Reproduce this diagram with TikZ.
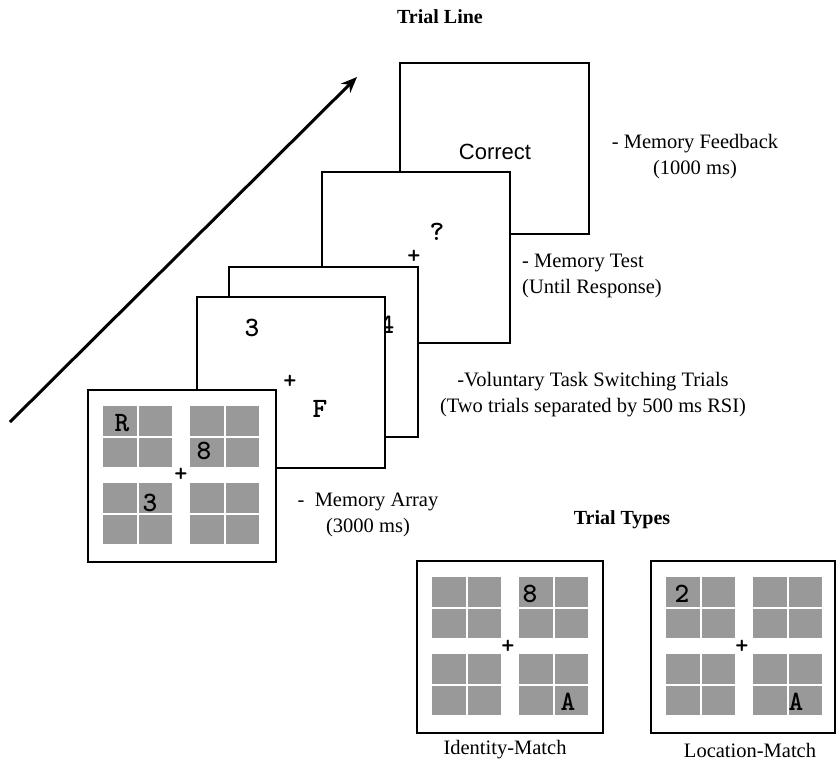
\documentclass[tikz,border=0pt]{standalone}
\usepackage{fontspec}
\setmainfont{Liberation Serif}
\newfontfamily\arialf{Liberation Sans}
\usetikzlibrary{arrows.meta}
\definecolor{cellgray}{RGB}{153,153,153}
\tikzset{
  frame/.style={draw=black, line width=2pt, fill=white},
  lbl/.style={font=\fontsize{20.5}{26}\selectfont, align=center, inner sep=0pt},
  ttl/.style={font=\fontsize{20}{22}\selectfont\bfseries, inner sep=0pt},
  glyph/.style={font=\ttfamily\bfseries\fontsize{28}{28}\selectfont, inner sep=0pt},
  cross/.style={font=\ttfamily\bfseries\fontsize{25}{25}\selectfont, inner sep=0pt},
}
% one 2x2 quadrant of grey cells, top-left corner (#1,#2)
\newcommand{\quadcells}[2]{%
  \fill[cellgray] (#1,#2) rectangle ++(69,61);
  \draw[white, line width=2.5pt] (#1+35,#2) -- ++(0,61);
  \draw[white, line width=2pt] (#1,#2+30.5) -- ++(69,0);
}
% the four quadrants of an array frame whose top-left corner is (#1,#2)
\newcommand{\arraycells}[2]{%
  \quadcells{#1+15}{#2+16}
  \quadcells{#1+102}{#2+16}
  \quadcells{#1+15}{#2+93}
  \quadcells{#1+102}{#2+93}
}
\begin{document}
\begin{tikzpicture}[x=1pt, y=-1pt]
\useasboundingbox (0,0) rectangle (836,761);

% titles
\node[ttl] (tline) at (440,17) {Trial Line};
\node[ttl] (ttypes) at (622,520) {Trial Types};

% time arrow
\coordinate (tstart) at (10,422);
\coordinate (tend) at (357,77);
\draw[line width=3pt, -{Stealth[length=16pt, width=13pt]}] (tstart) -- (tend);

% feedback screen
\draw[frame] (400,63) rectangle (589,234);
\node[font=\arialf\fontsize{22}{22}\selectfont, inner sep=0pt] (correct) at (495,152) {Correct};

% memory test screen
\draw[frame] (322,172) rectangle (510,343);
\node[glyph] (qmark) at (437,232) {?};
\node[cross] (plustest) at (414,257) {+};

% second task-switching screen
\draw[frame] (229,267) rectangle (418,437);
\node[glyph] (four) at (387,325) {4};

% first task-switching screen
\draw[frame] (197,297) rectangle (385,468);
\node[glyph] (three) at (252,328) {3};
\node[cross] (plusvts) at (290,382) {+};
\node[glyph] (letterF) at (320,409) {F};

% memory array screen
\draw[frame] (88,390) rectangle (276,562);
\arraycells{88}{390}
\node[glyph] (mR) at (122,423) {R};
\node[glyph] (m8) at (204,451) {8};
\node[glyph] (m3) at (150,503) {3};
\node[cross] (plusarr) at (181,475) {+};

% stage labels
\node[lbl] (fb) at (695,157) {- Memory Feedback\\(1000 ms)};
\node[lbl, align=left, anchor=west] (mt) at (522,276) {- Memory Test\\(Until Response)};
\node[lbl] (vts) at (593,395) {-Voluntary Task Switching Trials\\(Two trials separated by 500 ms RSI)};
\node[lbl] (ma) at (368,515) {- \ Memory Array\\(3000 ms)};

% identity-match example
\draw[frame] (417,561) rectangle (603,733);
\arraycells{417}{561}
\node[glyph] (i8) at (530,594) {8};
\node[glyph] (iA) at (568,702) {A};
\node[cross] (iplus) at (508,647) {+};
\node[lbl] (idlbl) at (505,750) {Identity-Match};

% location-match example
\draw[frame] (651,561) rectangle (835,733);
\arraycells{651}{561}
\node[glyph] (l2) at (682,594) {2};
\node[glyph] (lA) at (796,702) {A};
\node[cross] (lplus) at (742,647) {+};
\node[lbl] (loclbl) at (750,750) {Location-Match};
\end{tikzpicture}
\end{document}
